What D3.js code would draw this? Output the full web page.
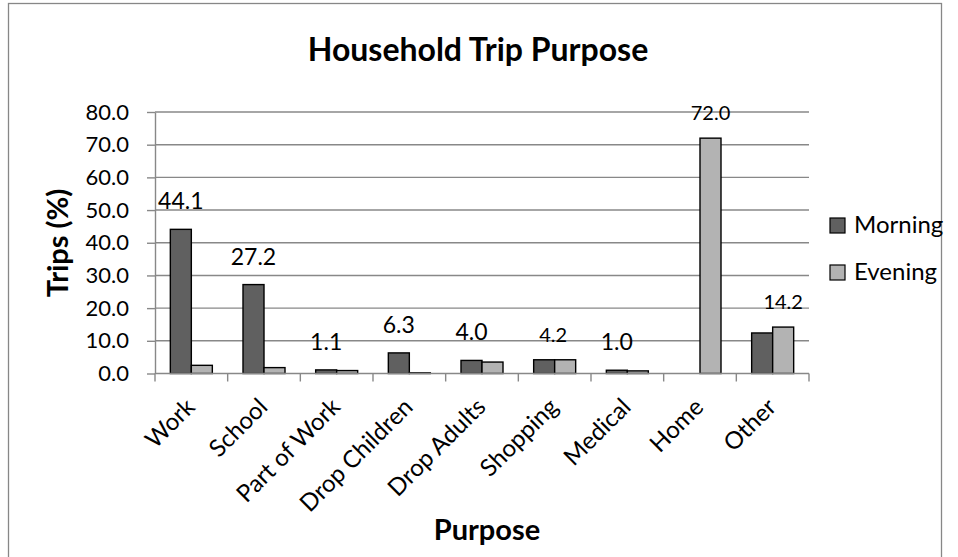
<!DOCTYPE html>
<html>
<head>
<meta charset="utf-8">
<script src="https://cdn.jsdelivr.net/npm/d3@7"></script>
<style>
  html, body { margin: 0; padding: 0; background: #fff; }
  svg { display: block; font-family: Lato, "Open Sans", sans-serif; }
</style>
</head>
<body>
<svg id="chart" width="958" height="557"></svg>
<script>
// Trip purpose shares (%) by time of day
const categories = ["Work", "School", "Part of Work", "Drop Children", "Drop Adults", "Shopping", "Medical", "Home", "Other"];
const seriesNames = ["Morning", "Evening"];
const morning = [44.1, 27.2, 1.1, 6.3, 4.0, 4.2, 1.0, 0.0, 12.4];
const evening = [2.5, 1.8, 0.9, 0.2, 3.5, 4.2, 0.8, 72.0, 14.2];
const yTicks = [0, 10, 20, 30, 40, 50, 60, 70, 80];
// Which series carries the value label in each category
const labelledSeries = ["Morning", "Morning", "Morning", "Morning", "Morning", "Evening", "Morning", "Evening", "Evening"];

const seriesValues = { Morning: morning, Evening: evening };
const colors = { Morning: "#606060", Evening: "#b3b3b3" };

const svg = d3.select("#chart");
const plot = { left: 155, right: 809, top: 112, bottom: 373.5 };

// Chart frame
svg.append("rect")
  .attr("x", 8.5).attr("y", 3.5)
  .attr("width", 933).attr("height", 580)
  .attr("fill", "#fff").attr("stroke", "#878787").attr("stroke-width", 1.3);

const x0 = d3.scaleBand().domain(categories).range([plot.left, plot.right]).padding(0);
const x1 = d3.scaleBand().domain(seriesNames).range([0, x0.bandwidth()]).paddingInner(0).paddingOuter(0.73);
const y = d3.scaleLinear().domain([0, 80]).range([plot.bottom, plot.top]);

// Horizontal gridlines
svg.append("g").selectAll("line").data(yTicks.filter(t => t > 0)).join("line")
  .attr("x1", plot.left).attr("x2", plot.right)
  .attr("y1", d => y(d)).attr("y2", d => y(d))
  .attr("stroke", "#888").attr("stroke-width", 1.4);

// Y axis
const yAxis = svg.append("g").attr("transform", `translate(${plot.left},0)`)
  .call(d3.axisLeft(y).tickValues(yTicks).tickFormat(d3.format(".1f")).tickSize(8).tickSizeOuter(0));
yAxis.select(".domain").attr("stroke", "#888").attr("stroke-width", 1.4);
yAxis.selectAll(".tick line").attr("stroke", "#888").attr("stroke-width", 1.4);
yAxis.selectAll(".tick text").attr("font-size", 22).attr("fill", "#000").attr("x", -26)
  .attr("font-family", "Lato, sans-serif");

// Bars
const groups = svg.append("g").selectAll("g").data(categories).join("g")
  .attr("transform", d => `translate(${x0(d)},0)`);
groups.selectAll("rect").data((c, i) => seriesNames.map(s => ({ s, v: seriesValues[s][i] })))
  .join("rect")
  .filter(d => d.v > 0)
  .attr("x", d => x1(d.s))
  .attr("width", x1.bandwidth())
  .attr("y", d => y(d.v))
  .attr("height", d => y(0) - y(d.v))
  .attr("fill", d => colors[d.s])
  .attr("stroke", "#000").attr("stroke-width", 1.4);

// X axis (ticks on category boundaries)
const xg = svg.append("g");
xg.append("line").attr("x1", plot.left).attr("x2", plot.right)
  .attr("y1", plot.bottom).attr("y2", plot.bottom)
  .attr("stroke", "#888").attr("stroke-width", 1.4);
const bounds = categories.map(c => x0(c)).concat([plot.right]);
xg.selectAll("line.tk").data(bounds).join("line").attr("class", "tk")
  .attr("x1", d => d).attr("x2", d => d)
  .attr("y1", plot.bottom).attr("y2", plot.bottom + 8)
  .attr("stroke", "#888").attr("stroke-width", 1.4);
xg.selectAll("text").data(categories).join("text")
  .attr("transform", d => `translate(${x0(d) + x0.bandwidth() / 2 + 5},${plot.bottom + 35}) rotate(-45)`)
  .attr("text-anchor", "end")
  .attr("font-size", 24)
  .attr("fill", "#000")
  .text(d => d);

// Value labels
const labelNudge = { Shopping: -12 };
svg.append("g").selectAll("text").data(categories).join("text")
  .attr("x", (c, i) => x0(c) + x1(labelledSeries[i]) + x1.bandwidth() / 2 + (labelNudge[c] || 0))
  .attr("y", (c, i) => y(seriesValues[labelledSeries[i]][i]) - (labelledSeries[i] === "Morning" ? 20 : 18))
  .attr("text-anchor", "middle")
  .attr("font-size", (c, i) => labelledSeries[i] === "Morning" ? 23 : 20)
  .attr("fill", "#000")
  .text((c, i) => d3.format(".1f")(seriesValues[labelledSeries[i]][i]));

// Legend
const legend = svg.append("g").selectAll("g").data(seriesNames).join("g")
  .attr("transform", (d, i) => `translate(830,${218 + i * 47})`);
legend.append("rect").attr("width", 15).attr("height", 15)
  .attr("fill", d => colors[d]).attr("stroke", "#000").attr("stroke-width", 1.2);
legend.append("text").attr("x", 24).attr("y", 15)
  .attr("font-size", 24).attr("fill", "#000").text(d => d);

// Titles
svg.append("text").attr("x", 478).attr("y", 61).attr("text-anchor", "middle")
  .attr("font-size", 32).attr("font-weight", "bold").text("Household Trip Purpose");
svg.append("text").attr("transform", "translate(68,243) rotate(-90)").attr("text-anchor", "middle")
  .attr("font-size", 29).attr("font-weight", "bold").text("Trips (%)");
svg.append("text").attr("x", 487).attr("y", 540).attr("text-anchor", "middle")
  .attr("font-size", 29).attr("font-weight", "bold").text("Purpose");
</script>
</body>
</html>
